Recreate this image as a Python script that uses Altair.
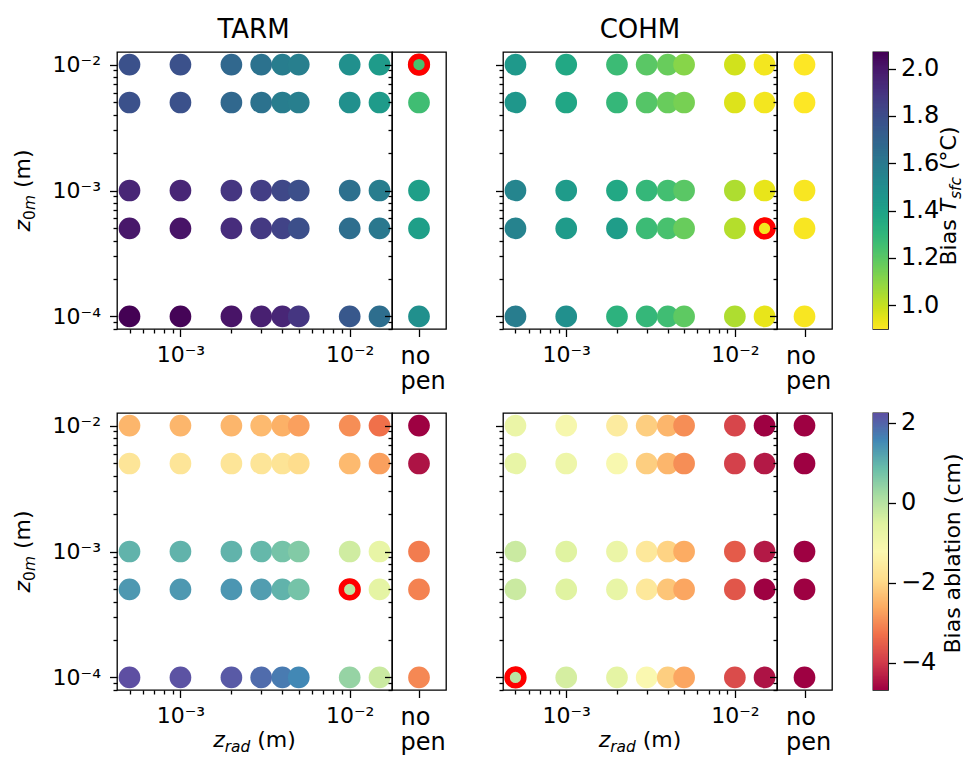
import altair as alt
import pandas as pd
import numpy as np

# ---------------- data ----------------
z_rad = [5e-4, 1e-3, 2e-3, 3e-3, 4e-3, 5e-3, 1e-2, 1.5e-2]
z_0m = [1e-2, 5e-3, 1e-3, 5e-4, 1e-4]
models = ["TARM", "COHM"]
nopen_label = ["no", "pen"]

# rows follow z_0m, columns follow z_rad, last column is "no pen"
tarm_tsfc = [
    [1.78, 1.78, 1.68, 1.63, 1.58, 1.57, 1.49, 1.43, 1.24],
    [1.78, 1.78, 1.68, 1.63, 1.58, 1.57, 1.49, 1.43, 1.26],
    [1.95, 1.95, 1.89, 1.86, 1.82, 1.79, 1.64, 1.58, 1.41],
    [2.00, 2.01, 1.92, 1.88, 1.84, 1.79, 1.65, 1.60, 1.41],
    [2.07, 2.06, 2.01, 1.97, 1.95, 1.89, 1.75, 1.65, 1.49],
]
cohm_tsfc = [
    [1.44, 1.37, 1.27, 1.20, 1.17, 1.11, 0.98, 0.92, 0.90],
    [1.45, 1.38, 1.29, 1.21, 1.17, 1.14, 0.96, 0.92, 0.90],
    [1.54, 1.43, 1.37, 1.29, 1.25, 1.20, 1.04, 0.94, 0.91],
    [1.55, 1.43, 1.42, 1.27, 1.24, 1.17, 1.03, 0.92, 0.91],
    [1.58, 1.49, 1.32, 1.29, 1.26, 1.19, 1.04, 0.94, 0.91],
]
tarm_abl = [
    [-2.46, -2.46, -2.46, -2.40, -2.53, -2.74, -2.95, -3.30, -4.68],
    [-1.70, -1.70, -1.70, -1.70, -1.72, -1.90, -2.40, -2.74, -4.47],
    [1.00, 1.00, 1.00, 0.93, 0.73, 0.59, -0.31, -0.73, -3.16],
    [1.35, 1.35, 1.38, 1.28, 1.00, 0.73, -0.11, -0.66, -3.09],
    [2.25, 2.20, 2.12, 1.90, 1.72, 1.56, 0.38, -0.25, -3.02],
]
cohm_abl = [
    [-0.80, -1.08, -1.56, -2.12, -2.46, -2.95, -3.85, -4.68, -4.68],
    [-0.73, -0.87, -1.15, -2.12, -2.46, -2.95, -3.92, -4.40, -4.68],
    [-0.25, -0.52, -0.80, -1.63, -2.05, -2.60, -3.57, -4.40, -4.68],
    [-0.25, -0.52, -0.73, -1.63, -2.25, -2.67, -3.64, -4.68, -4.68],
    [-0.04, -0.38, -0.66, -1.20, -2.12, -2.67, -3.78, -4.47, -4.68],
]
# best (red-circled) configuration of each panel: (z_rad or "no pen", z_0m)
best_tarm_tsfc = ("no pen", 1e-2)
best_cohm_tsfc = (1.5e-2, 5e-4)
best_tarm_abl = (1e-2, 5e-4)
best_cohm_abl = (5e-4, 1e-4)

tsfc_range = [0.90, 2.07]
abl_range = [-4.68, 2.25]
tsfc_ticks = [1.0, 1.2, 1.4, 1.6, 1.8, 2.0]
abl_ticks = [-4, -2, 0, 2]

# ---------------- layout / style ----------------
FONT = "DejaVu Sans"
W_MAIN_L, W_MAIN_R = 275, 274
W_NP_L, W_NP_R = 54, 55
GAP1, GAP2, W_CB = 57, 41, 15
H = 277
ROW_GAP = 84
DOT = 470
RING = 282
XDOM = [4.218e-4, 1.778e-2]
YDOM = [7.943e-5, 1.259e-2]
XTICKS = [round(m * 10.0 ** e, 12) for e in (-4, -3, -2) for m in range(1, 10)
          if XDOM[0] <= m * 10.0 ** e <= XDOM[1]]
YTICKS = [round(m * 10.0 ** e, 12) for e in (-5, -4, -3, -2) for m in range(1, 10)
          if YDOM[0] <= m * 10.0 ** e <= YDOM[1]]
MAJOR = "abs(log(datum.value)/LN10 - round(log(datum.value)/LN10)) < 1e-6"
TICKCOND = {"condition": {"test": MAJOR, "value": 7.5}, "value": 4}
XLAB = ("abs(datum.value-0.001)<1e-10 ? '10\u207b\u00b3' : "
        "abs(datum.value-0.01)<1e-9 ? '10\u207b\u00b2' : ''")
YLAB = ("abs(datum.value-0.01)<1e-9 ? '10\u207b\u00b2' : "
        "abs(datum.value-0.001)<1e-10 ? '10\u207b\u00b3' : "
        "abs(datum.value-0.0001)<1e-11 ? '10\u207b\u2074' : ''")

# page placement: top-left of the first panel, and the visible canvas size
ORIGIN_X, ORIGIN_Y = 109, 44
CANVAS_W, CANVAS_H = 955, 747

DUMMY = pd.DataFrame({"a": [0]})
CW = {" ": .318, "(": .390, ")": .390, "0": .636, "B": .686, "C": .698, "T": .611,
      "A": .684, "R": .695, "M": .863, "H": .752, "O": .787,
      "a": .613, "b": .635, "c": .550, "d": .635, "f": .352, "i": .278, "l": .278,
      "m": .974, "n": .634, "o": .612, "r": .411, "s": .521, "t": .392, "z": .525,
      "\u00b0": .500}


def tw(s, fs):
    return sum(CW.get(c, 0.6) for c in s) * fs


def rich_text(segments, ax, ay, fs, rotate=False):
    """segments: (text, italic, subscript). Anchor is the centre of the run, on the baseline."""
    sizes = [fs * (0.7 if sub else 1.0) for _, _, sub in segments]
    widths = [tw(t, s) for (t, _, _), s in zip(segments, sizes)]
    total = sum(widths)
    layers, cum = [], 0.0
    for (t, it, sub), s, w in zip(segments, sizes, widths):
        lead = len(t) - len(t.lstrip(" "))
        off = cum + tw(t[:lead], s)
        shift = 0.24 * fs if sub else 0.0
        if rotate:
            px, py = ax + shift, ay + total / 2 - off
        else:
            px, py = ax - total / 2 + off, ay + shift
        layers.append(
            alt.Chart(DUMMY).mark_text(
                text=t.strip(" "), font=FONT, fontSize=s,
                fontStyle="italic" if it else "normal", align="left",
                baseline="alphabetic", angle=270 if rotate else 0, color="black",
            ).encode(x=alt.value(px), y=alt.value(py))
        )
        cum += w
    return layers


def axis_common(**kw):
    base = dict(title=None, grid=False, domain=False, tickColor="black", tickWidth=1.3,
                labelColor="black", labelFont=FONT)
    base.update(kw)
    return alt.Axis(**base)


YSCALE = alt.Scale(type="log", domain=YDOM, nice=False)


def main_panel(vals, best, cscale, width, show_ylab, title=None, xtitle=False):
    rows = []
    for i, y in enumerate(z_0m):
        for j, x in enumerate(z_rad):
            rows.append({"z_rad": x, "z_0m": y, "bias": vals[i][j], "best": best == (x, y)})
    df = pd.DataFrame(rows)
    xenc = alt.X("z_rad:Q", scale=alt.Scale(type="log", domain=XDOM, nice=False),
                 axis=axis_common(values=XTICKS, labelExpr=XLAB, tickSize=TICKCOND,
                                  labelFontSize=22, labelPadding=8, labelFlush=False,
                                  labelOverlap=False))
    yenc = alt.Y("z_0m:Q", scale=YSCALE,
                 axis=axis_common(orient="left", values=YTICKS, labelExpr=YLAB,
                                  labels=show_ylab, tickSize=TICKCOND, labelFontSize=22,
                                  labelPadding=9, labelOverlap=False, labelFlush=False))
    color = alt.Color("bias:Q", scale=cscale, legend=None)
    base = alt.Chart(df)
    dots = base.mark_circle(size=DOT, opacity=1).encode(x=xenc, y=yenc, color=color)
    ring = base.transform_filter("datum.best").mark_circle(
        size=RING, opacity=1, stroke="red", strokeWidth=5.5
    ).encode(x=xenc, y=alt.Y("z_0m:Q", scale=YSCALE, axis=None), color=color)
    # ticks of the "no pen" panel, drawn inward on the right edge of the main panel
    edge = base.mark_circle(opacity=0).encode(
        x=xenc,
        y=alt.Y("z_0m:Q", scale=YSCALE,
                axis=axis_common(orient="left", offset=-width, values=YTICKS, labels=False,
                                 tickSize=TICKCOND, zindex=1)),
    )
    layers = [dots, ring, edge]
    layers += rich_text([("z", True, False), ("0", False, True), ("m", True, True),
                         (" (m)", False, False)], -87, H / 2, 22, rotate=True) if show_ylab else []
    if title:
        layers += rich_text([(title, False, False)], width / 2, -14, 26)
    if xtitle:
        layers += rich_text([("z", True, False), ("rad", True, True), (" (m)", False, False)],
                            width / 2, H + 57, 22)
    return alt.layer(*layers).resolve_axis(y="independent").properties(width=width, height=H)


def nopen_panel(vals, best, cscale, width):
    df = pd.DataFrame({
        "pos": [0.5] * len(z_0m),
        "z_0m": z_0m,
        "bias": [r[8] for r in vals],
        "best": [best == ("no pen", y) for y in z_0m],
    })
    lab = "['" + "','".join(nopen_label) + "']"
    xenc = alt.X("pos:Q", scale=alt.Scale(domain=[0, 1], nice=False, zero=False),
                 axis=axis_common(values=[0.5], labelExpr=lab, tickSize=7.5, labelFontSize=24,
                                  labelLineHeight=25, labelAlign="left", labelOffset=-19,
                                  labelPadding=8, labelFlush=False))
    yenc = alt.Y("z_0m:Q", scale=YSCALE, axis=None)
    color = alt.Color("bias:Q", scale=cscale, legend=None)
    base = alt.Chart(df)
    dots = base.mark_circle(size=DOT, opacity=1).encode(x=xenc, y=yenc, color=color)
    ring = base.transform_filter("datum.best").mark_circle(
        size=RING, opacity=1, stroke="red", strokeWidth=5.5
    ).encode(x=xenc, y=yenc, color=color)
    return alt.layer(dots, ring).properties(width=width, height=H)


def colorbar(rng, ticks, cscale, fmt, title_segments, title_dx, title_dy):
    lo, hi = rng
    n = 240
    edges = np.linspace(lo, hi, n + 1)
    step = (hi - lo) / n
    df = pd.DataFrame({"v0": edges[:-1], "v1": np.minimum(edges[1:] + 0.8 * step, hi),
                       "vm": (edges[:-1] + edges[1:]) / 2})
    ysc = alt.Scale(domain=[lo, hi], nice=False, zero=False)
    rect = alt.Chart(df).mark_rect().encode(
        x=alt.value(0), x2=alt.value(W_CB),
        y=alt.Y("v0:Q", scale=ysc,
                axis=axis_common(orient="right", values=ticks, format=fmt, tickSize=7.5,
                                 labelFontSize=24, labelPadding=5, zindex=1,
                                 labelOverlap=False, labelFlush=False)),
        y2="v1:Q",
        color=alt.Color("vm:Q", scale=cscale, legend=None),
    )
    layers = [rect] + rich_text(title_segments, title_dx, H / 2 + title_dy, 22, rotate=True)
    return alt.layer(*layers).properties(width=W_CB, height=H)


def spacer(w):
    return alt.Chart(DUMMY).mark_point(opacity=0).encode(
        x=alt.value(0), y=alt.value(0)
    ).properties(width=w, height=H, view=alt.ViewBackground(stroke=None))


tsfc_scale = alt.Scale(scheme="viridis", reverse=True, domain=tsfc_range)
abl_scale = alt.Scale(scheme="spectral", domain=abl_range)

row1 = [
    main_panel(tarm_tsfc, best_tarm_tsfc, tsfc_scale, W_MAIN_L, True, title=models[0]),
    nopen_panel(tarm_tsfc, best_tarm_tsfc, tsfc_scale, W_NP_L),
    spacer(GAP1),
    main_panel(cohm_tsfc, best_cohm_tsfc, tsfc_scale, W_MAIN_R, False, title=models[1]),
    nopen_panel(cohm_tsfc, best_cohm_tsfc, tsfc_scale, W_NP_R),
    spacer(GAP2),
    colorbar(tsfc_range, tsfc_ticks, tsfc_scale, ".1f",
             [("Bias ", False, False), ("T", True, False), ("sfc", True, True),
              (" (\u00b0C)", False, False)], 83, 5.5),
]
row2 = [
    main_panel(tarm_abl, best_tarm_abl, abl_scale, W_MAIN_L, True, xtitle=True),
    nopen_panel(tarm_abl, best_tarm_abl, abl_scale, W_NP_L),
    spacer(GAP1),
    main_panel(cohm_abl, best_cohm_abl, abl_scale, W_MAIN_R, False, xtitle=True),
    nopen_panel(cohm_abl, best_cohm_abl, abl_scale, W_NP_R),
    spacer(GAP2),
    colorbar(abl_range, abl_ticks, abl_scale, "d",
             [("Bias ablation (cm)", False, False)], 86.5, 2),
]

chart = alt.concat(
    *(row1 + row2), columns=7, spacing={"row": ROW_GAP, "column": 0},
    bounds="flush", align="each",
).resolve_scale(color="independent", x="independent", y="independent").properties(
    autosize=alt.AutoSizeParams(type="none"),
    padding={"left": ORIGIN_X, "top": ORIGIN_Y,
             "right": CANVAS_W - ORIGIN_X, "bottom": CANVAS_H - ORIGIN_Y},
).configure(font=FONT).configure_view(stroke="black", strokeWidth=1.3)

chart.save("out.html", embed_options={"renderer": "svg", "actions": False})
